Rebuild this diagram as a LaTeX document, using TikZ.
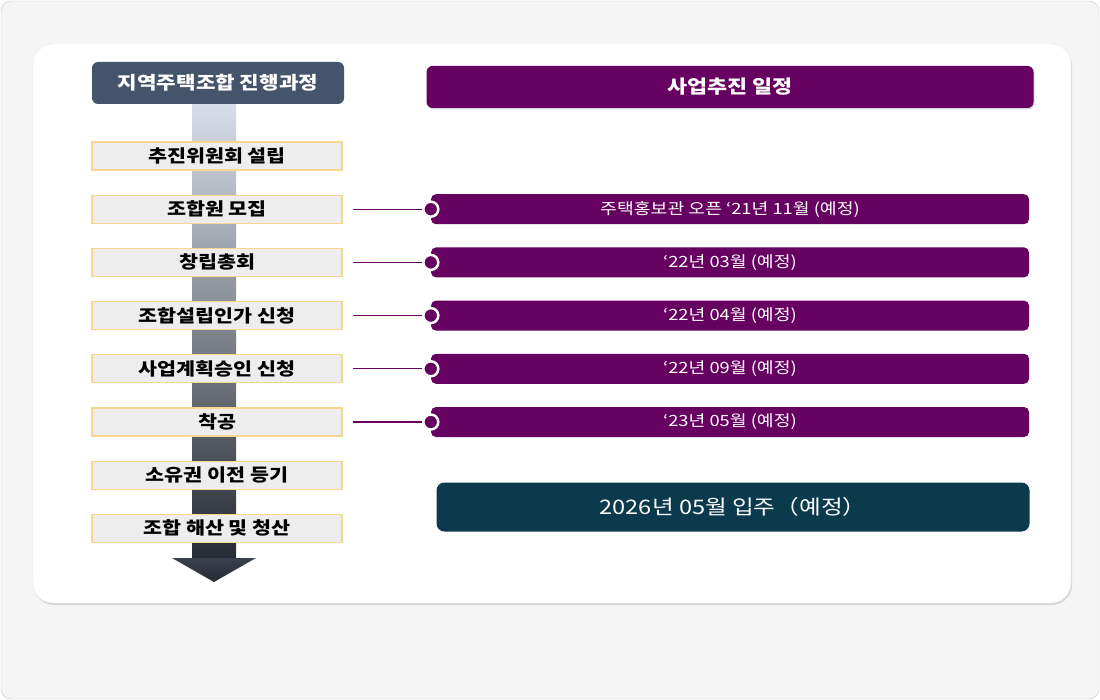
\documentclass[tikz,border=0pt]{standalone}
\usepackage{fontspec}
\setmainfont{Noto Sans CJK KR}[FakeStretch=1.18]
\usetikzlibrary{positioning,shadows,shapes}

\definecolor{slate}{HTML}{44546A}
\definecolor{plum}{HTML}{660061}
\definecolor{deepteal}{HTML}{0B3A4D}
\definecolor{stagefill}{HTML}{EDEDED}
\definecolor{stagegold}{HTML}{F3D88E}
\definecolor{pagegray}{HTML}{F5F5F5}
\definecolor{barlight}{HTML}{D8DEE7}
\definecolor{barmid}{HTML}{8D9BB0}
\definecolor{bardark}{HTML}{262A33}

\tikzset{
    titlebox/.style={
                fill=slate,
                rounded corners=6pt,
                text=white,
                minimum width=252pt,
                minimum height=42pt,
                font=\bfseries\fontsize{18}{21}\selectfont
            },
        stage/.style={
                draw=stagegold,
                fill=stagefill,
                line width=1.2pt,
                minimum width=250pt,
                minimum height=28pt,
                inner sep=0pt,
                font=\bfseries\fontsize{17.5}{20}\selectfont
            },
        schedhead/.style={
                fill=plum,
                rounded corners=6pt,
                text=white,
                minimum width=607pt,
                minimum height=42pt,
                drop shadow={opacity=0.3,shadow xshift=1pt,shadow yshift=-1.5pt},
                font=\bfseries\fontsize{18.5}{21}\selectfont
            },
        schedule/.style={
                fill=plum,
                rounded corners=5pt,
                text=white,
                minimum width=598pt,
                minimum height=30pt,
                inner sep=0pt,
                font=\fontsize{15.5}{18}\selectfont
            },
        pin/.style={
                circle,
                fill=plum,
                draw=white,
                line width=2.5pt,
                minimum size=15pt,
                inner sep=0pt
            },
        link/.style={draw=plum,line width=1.3pt,shorten <=10pt},
        moveinbox/.style={
                fill=deepteal,
                rounded corners=8pt,
                text=white,
                minimum width=593pt,
                minimum height=49pt,
                font=\fontsize{20}{24}\selectfont
            },
}

\begin{document}
\begin{tikzpicture}[x=1pt,y=-1pt]
  \useasboundingbox (0,0) rectangle (1100,700);
  % Background
  \draw[draw=black!20,fill=pagegray,rounded corners=10pt] (1,1) rectangle (1099,699);
  \draw[draw=black!8,fill=white,rounded corners=20pt,
        drop shadow={opacity=0.25,shadow xshift=1pt,shadow yshift=-2pt}] (33,44) rectangle (1071,603);
  % Process arrow
  \shade[top color=barlight,middle color=barmid,bottom color=bardark] (192,104) rectangle (236,558);
  \shade[top color=bardark!80!barmid,bottom color=bardark] (172,558) -- (256,558) -- (214,582) -- cycle;
  % Process steps
  \node[titlebox] (title) at (218,83) {지역주택조합 진행과정};
  \node[stage] (s1) at (217,156) {추진위원회 설립};
  \node[stage,below=24pt of s1] (s2) {조합원 모집};
  \node[stage,below=24pt of s2] (s3) {창립총회};
  \node[stage,below=24pt of s3] (s4) {조합설립인가 신청};
  \node[stage,below=24pt of s4] (s5) {사업계획승인 신청};
  \node[stage,below=24pt of s5] (s6) {착공};
  \node[stage,below=24pt of s6] (s7) {소유권 이전 등기};
  \node[stage,below=24pt of s7] (s8) {조합 해산 및 청산};
  % Schedule
  \node[schedhead] (plan) at (730,87) {사업추진 일정};
  \node[schedule] (t1) at (s2 -| plan) {주택홍보관 오픈 ‘21년 11월 (예정)};
  \node[schedule] (t2) at (s3 -| plan) {‘22년 03월 (예정)};
  \node[schedule] (t3) at (s4 -| plan) {‘22년 04월 (예정)};
  \node[schedule] (t4) at (s5 -| plan) {‘22년 09월 (예정)};
  \node[schedule] (t5) at (s6 -| plan) {‘23년 05월 (예정)};
  \node[moveinbox] (movein) at (733,507) {2026년 05월 입주（예정）};
  % Links
  \draw[link] (s2.east) -- (t1.west);
  \draw[link] (s3.east) -- (t2.west);
  \draw[link] (s4.east) -- (t3.west);
  \draw[link] (s5.east) -- (t4.west);
  \draw[link] (s6.east) -- (t5.west);
  \node[pin] (p1) at (t1.west) {};
  \node[pin] (p2) at (t2.west) {};
  \node[pin] (p3) at (t3.west) {};
  \node[pin] (p4) at (t4.west) {};
  \node[pin] (p5) at (t5.west) {};
\end{tikzpicture}
\end{document}
